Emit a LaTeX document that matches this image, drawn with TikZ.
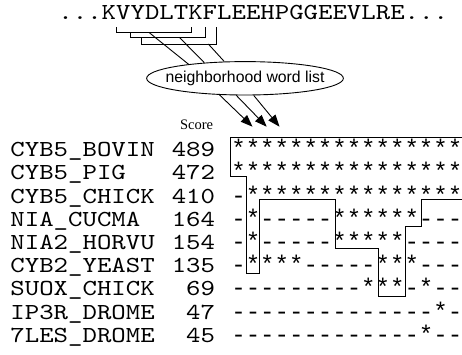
\documentclass[tikz,border=0pt]{standalone}
\usepackage{fontspec}
\setmainfont{Liberation Serif}
\setsansfont{Liberation Sans}
\setmonofont{Liberation Mono}
\newfontfamily\seqfont{lmmono10-regular.otf}[FakeStretch=1.2]
\usepackage{tikz}
\usetikzlibrary{arrows.meta,shapes.geometric}

\begin{document}
\begin{tikzpicture}[x=1pt,y=-1pt,line width=0.9pt,
  mono/.style={font=\seqfont\fontsize{22.9}{26}\selectfont,inner sep=0pt},
  hits/.style={font=\ttfamily\fontsize{24.05}{26}\selectfont,inner sep=0pt},
  wordline/.style={line width=0.9pt},
  hitline/.style={line width=0.9pt,-{Triangle[length=12pt,width=9pt]}}]
\useasboundingbox (0,0) rectangle (462,354);
% query sequence
\node[mono,anchor=base west] (query) at (58,19.3) {...KVYDLTKFLEEHPGGEEVLRE...};
% words taken from the query
\draw[wordline] (116,27.3) -- (116,32.7) -- (191.7,32.7) -- (191.7,27.3);
\draw[wordline] (130.7,32.7) -- (130.7,37.3) -- (205,37.3) -- (205,27.3);
\draw[wordline] (141.7,37.3) -- (141.7,44) -- (216,44) -- (216,27.3);
\coordinate (w1) at (149.3,32.7);
\coordinate (w2) at (179.3,37.3);
\coordinate (w3) at (208.3,44);
% word list
\node[draw,ellipse,minimum width=196.7pt,minimum height=33.4pt,inner sep=0pt,
      font=\sffamily\fontsize{15.8}{18}\selectfont] (nbr) at (245,78.3)
      {\makebox[0pt]{neighborhood word list}};
\draw[wordline] (w1) -- (nbr.166.4);
\draw[wordline] (w2) -- (nbr.159.2);
\draw[wordline] (w3) -- (nbr.141.7);
% hits in the database
\coordinate (h1) at (252.5,126.7);
\coordinate (h2) at (266.7,126.7);
\coordinate (h3) at (279.5,126.7);
\draw[hitline] (nbr.213.7) -- (h1);
\draw[hitline] (nbr.243.6) -- (h2);
\draw[hitline] (nbr.297.9) -- (h3);
% score column
\node[font=\rmfamily\fontsize{14.5}{16}\selectfont,inner sep=0pt,anchor=base east]
      (score) at (213.5,129.3) {Score};
% database sequences
\foreach \nm/\sc/\al [count=\r] in {
    CYB5\_BOVIN/489/****************,
    CYB5\_PIG/472/****************,
    CYB5\_CHICK/410/-***************,
    NIA\_CUCMA/164/-*-----******---,
    NIA2\_HORVU/154/-*-----*****----,
    CYB2\_YEAST/135/-****-----***---,
    SUOX\_CHICK/69/---------***-*--,
    IP3R\_DROME/47/--------------*-,
    7LES\_DROME/45/-------------*--}{
  \node[mono,anchor=base west] (name\r) at (10,{156.7+23.2*(\r-1)}) {\nm};
  \node[mono,anchor=base east] (sc\r) at (215.5,{156.7+23.2*(\r-1)}) {\sc};
  \node[hits,anchor=base west] (aln\r) at (230.9,{156.7+23.2*(\r-1)}) {\al};
}
% conserved region
\draw[line width=1pt] (462,137.3) -- (230.7,137.3) -- (230.7,176.7) -- (246,176.7)
  -- (246,273.3) -- (259,273.3) -- (259,199) -- (335,199) -- (335,248.3)
  -- (378.3,248.3) -- (378.3,296.5) -- (405,296.5) -- (405,226.7) -- (421,226.7)
  -- (421,199) -- (462,199);
\end{tikzpicture}
\end{document}
